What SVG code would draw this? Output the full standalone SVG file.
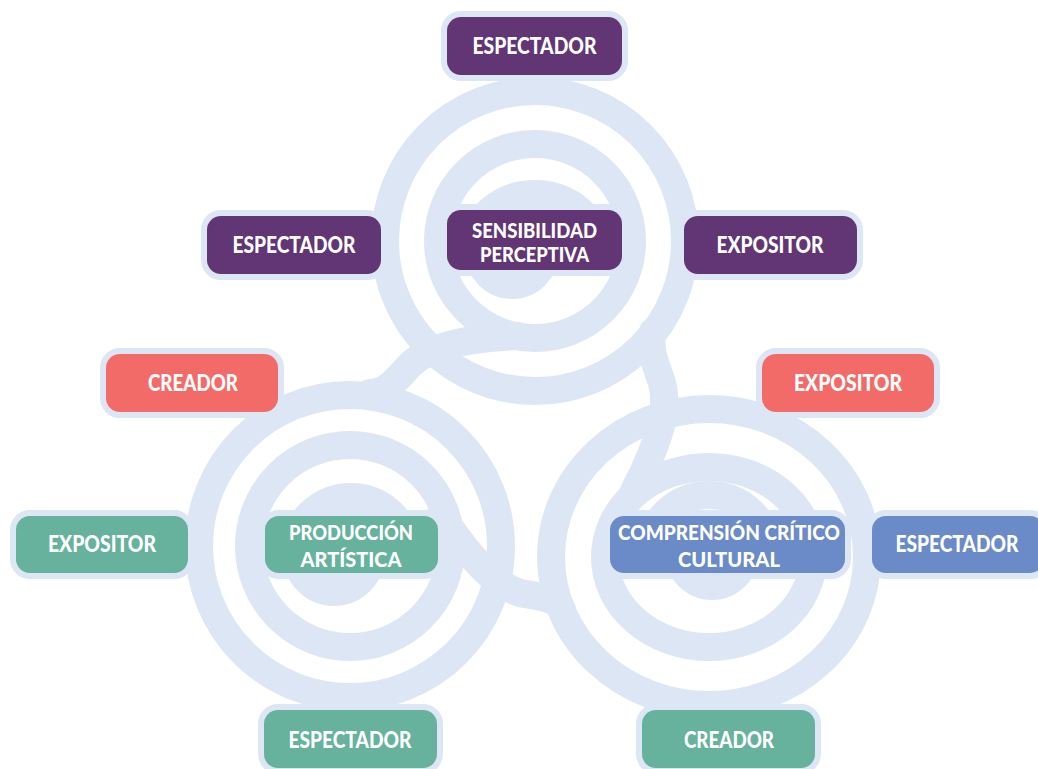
<svg xmlns="http://www.w3.org/2000/svg" width="1038" height="769" viewBox="0 0 1038 769">
<style>
.sp{fill:none;stroke:#dde6f4;stroke-width:28;stroke-linecap:round;stroke-linejoin:round}
.box{stroke:#dde6f4;stroke-width:12;paint-order:stroke}
.pu{fill:#623574}.rd{fill:#f26b69}.gr{fill:#66b29d}.bl{fill:#6a8bc7}
text{font-family:Lato,"Open Sans","DejaVu Sans",sans-serif;font-weight:900;font-size:21px;fill:#ffffff;text-anchor:middle}
.one{font-size:22px}
</style>
<rect width="1038" height="769" fill="#ffffff"/>
<g id="spirals">
<g id="spiral-top">
<circle class="sp" cx="535" cy="241" r="150"/>
<circle class="sp" cx="535" cy="241" r="97"/>
<path class="sp" d="M471,252 A64,58 0 0 1 599,252 M479,252 A33,33 0 0 0 545,252"/>
<path class="sp" d="M518,336 C470,338 430,345 410,365 C396,380 388,392 370,393"/>
</g>
<g id="spiral-left">
<circle class="sp" cx="350" cy="546" r="151"/>
<circle class="sp" cx="350" cy="546" r="101"/>
<path class="sp" d="M293,555 A58,58 0 0 1 409,555 M297,555 A37,37 0 0 0 371,555"/>
<path class="sp" d="M441,514 C467,554 493,585 520,593 C540,597 556,597 562,610"/>
</g>
<g id="spiral-right">
<ellipse class="sp" cx="709" cy="557" rx="158" ry="148"/>
<ellipse class="sp" cx="709" cy="557" rx="104" ry="90"/>
<path class="sp" d="M649,553 A60,58 0 0 1 769,553 M679,553 A33,33 0 0 0 745,553"/>
<path class="sp" d="M634,491 C656,449 670,411 662,383 C656,364 648,350 653,332"/>
</g>
</g>
<g id="n1"><rect class="box pu" x="447" y="17" width="175" height="58" rx="14"/><text class="one" x="534.5" y="54" textLength="124" lengthAdjust="spacingAndGlyphs">ESPECTADOR</text></g>
<g id="n2"><rect class="box pu" x="447" y="210" width="175" height="60" rx="14"/><text x="534.5" y="238" textLength="125" lengthAdjust="spacingAndGlyphs">SENSIBILIDAD</text><text x="534.5" y="262" textLength="109" lengthAdjust="spacingAndGlyphs">PERCEPTIVA</text></g>
<g id="n3"><rect class="box pu" x="207" y="216" width="174" height="58" rx="14"/><text class="one" x="294" y="253" textLength="123" lengthAdjust="spacingAndGlyphs">ESPECTADOR</text></g>
<g id="n4"><rect class="box pu" x="684" y="216" width="173" height="58" rx="14"/><text class="one" x="770" y="253" textLength="107" lengthAdjust="spacingAndGlyphs">EXPOSITOR</text></g>
<g id="n5"><rect class="box rd" x="106" y="354" width="172" height="58" rx="14"/><text class="one" x="193" y="391" textLength="90" lengthAdjust="spacingAndGlyphs">CREADOR</text></g>
<g id="n6"><rect class="box rd" x="762" y="354" width="172" height="58" rx="14"/><text class="one" x="848" y="391" textLength="108" lengthAdjust="spacingAndGlyphs">EXPOSITOR</text></g>
<g id="n7"><rect class="box gr" x="16" y="516" width="172" height="57" rx="14"/><text class="one" x="102" y="552" textLength="108" lengthAdjust="spacingAndGlyphs">EXPOSITOR</text></g>
<g id="n8"><rect class="box gr" x="265" y="516" width="173" height="57" rx="14"/><text x="351" y="540" textLength="124" lengthAdjust="spacingAndGlyphs">PRODUCCIÓN</text><text x="351" y="567" textLength="101" lengthAdjust="spacingAndGlyphs">ARTÍSTICA</text></g>
<g id="n9"><rect class="box bl" x="610" y="516" width="235" height="57" rx="14"/><text x="729" y="540" textLength="222" lengthAdjust="spacingAndGlyphs">COMPRENSIÓN CRÍTICO</text><text x="729" y="567" textLength="102" lengthAdjust="spacingAndGlyphs">CULTURAL</text></g>
<g id="n10"><rect class="box bl" x="872" y="516" width="172" height="57" rx="14"/><text class="one" x="957" y="552" textLength="123" lengthAdjust="spacingAndGlyphs">ESPECTADOR</text></g>
<g id="n11"><rect class="box gr" x="264" y="710" width="173" height="58" rx="14"/><text class="one" x="350" y="748" textLength="123" lengthAdjust="spacingAndGlyphs">ESPECTADOR</text></g>
<g id="n12"><rect class="box gr" x="642" y="710" width="173" height="58" rx="14"/><text class="one" x="729" y="748" textLength="90" lengthAdjust="spacingAndGlyphs">CREADOR</text></g>
</svg>
